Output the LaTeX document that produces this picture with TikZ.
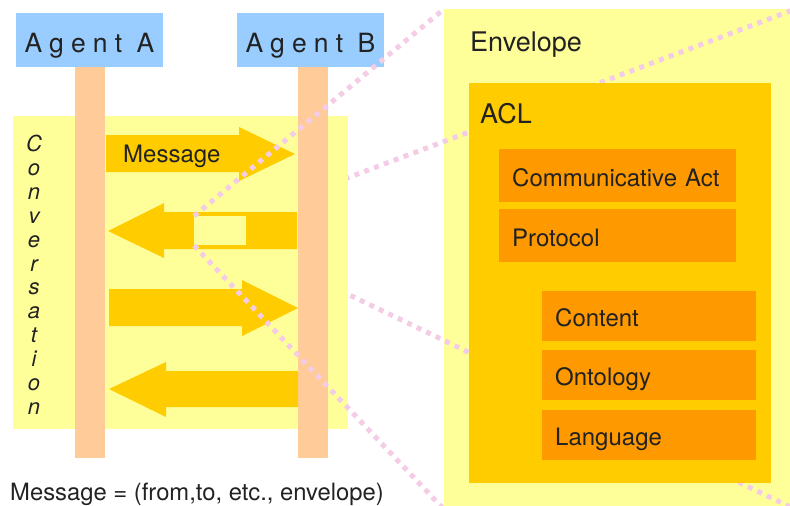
\documentclass[tikz,border=0pt]{standalone}
\usepackage{fontspec}
\setmainfont{TeX Gyre Heros}
\newfontfamily\agentfamily[LetterSpace=27]{TeX Gyre Heros}

\definecolor{paleyellow}{HTML}{FFFF99}
\definecolor{aclgold}{HTML}{FFCC00}
\definecolor{partorange}{HTML}{FF9900}
\definecolor{peach}{HTML}{FFCC99}
\definecolor{skyblue}{HTML}{99CCFF}
\definecolor{zoompink}{HTML}{F4CCE6}
\definecolor{ink}{HTML}{222222}

\newcommand\titlesize{\fontsize{27}{32}\selectfont}
\newcommand\partsize{\fontsize{24}{28}\selectfont}
\newcommand\captionsize{\fontsize{23.8}{28}\selectfont}
\newcommand\convsize{\fontsize{22}{26}\selectfont\itshape}
\newcommand\agentsize{\agentfamily\fontsize{26.5}{31}\selectfont}

\pgfdeclarelayer{back}
\pgfdeclarelayer{behind}
\pgfsetlayers{back,behind,main}

\tikzset{
  agent/.style={fill=skyblue, text=ink, font=\agentsize, minimum width=147pt, minimum height=54pt,
    inner sep=0pt, text height=24.5pt, text depth=0pt},
  lifeline/.style={fill=peach},
  convo/.style={fill=paleyellow},
  msgarrow/.style={fill=aclgold},
  plain/.style={text=ink, font=\partsize, inner sep=0pt, anchor=base west},
  convletter/.style={text=ink, font=\convsize, inner sep=0pt, anchor=base},
  title/.style={text=ink, font=\titlesize, inner sep=0pt, anchor=base west},
  envbox/.style={fill=paleyellow, anchor=north west, inner sep=0pt, minimum width=351pt, minimum height=500pt},
  aclbox/.style={fill=aclgold, anchor=north west, inner sep=0pt, minimum width=302pt, minimum height=400pt},
  part/.style={fill=partorange, text=ink, font=\partsize, anchor=north west, align=left,
    inner xsep=13pt, inner ysep=0pt, text height=21pt, text depth=0pt},
  zoomline/.style={draw=zoompink, line width=5pt, dash pattern=on 5pt off 5.5pt}
}

\begin{document}
\begin{tikzpicture}[x=1pt,y=-1pt]
  \useasboundingbox (0,0) rectangle (790,506);

  % envelope, behind everything
  \begin{pgfonlayer}{back}
    \node[envbox] (envelope) at (444,9) {};
  \end{pgfonlayer}
  \node[title] (envtitle) at (470,51) {Envelope};

  % ACL and its parts
  \node[aclbox] (acl) at (469,83) {};
  \node[title] (acltitle) at (480,123) {ACL};
  \node[part, text width=211pt, minimum height=53pt] (comact) at (499,149) {Communicative Act};
  \node[part, text width=211pt, minimum height=53pt] (protocol) at (499,209) {Protocol};
  \node[part, text width=188pt, minimum height=50pt] (content) at (542,291) {Content};
  \node[part, text width=188pt, minimum height=50pt] (ontology) at (542,350) {Ontology};
  \node[part, text width=188pt, minimum height=50pt] (language) at (542,410) {Language};

  % agents and lifelines
  \node[agent] (agentA) at (89.5,40) {Agent A};
  \node[agent] (agentB) at (310.5,40) {Agent B};
  \fill[convo] (13,116) rectangle (348,429);
  \fill[lifeline] (75,67) rectangle (105,458);
  \fill[lifeline] (298,67) rectangle (328,458);

  \foreach \ch [count=\k from 0] in {C,o,n,v,e,r,s,a,t,i,o,n}
    \node[convletter] (conv\k) at (34,{151.5+23.9*\k}) {\ch};

  % messages
  \fill[msgarrow] (106,135) -- (239,135) -- (239,127) -- (295,154) -- (239,181) -- (239,172) -- (106,172) -- cycle;
  \fill[msgarrow] (297,212) -- (164,212) -- (164,203) -- (108,231) -- (164,258) -- (164,249) -- (297,249) -- cycle;
  \fill[msgarrow] (109,289) -- (242,289) -- (242,280) -- (298,308) -- (242,336) -- (242,326) -- (109,326) -- cycle;
  \fill[msgarrow] (298,371) -- (166,371) -- (166,362) -- (109,389) -- (166,417) -- (166,407) -- (298,407) -- cycle;
  \node[plain] (msglabel) at (123,162) {Message};
  \node[fill=paleyellow, anchor=north west, inner sep=0pt, minimum width=52pt, minimum height=29pt] (msgbox) at (194,216) {};

  \node[plain, font=\captionsize] (caption) at (10,500.5) {Message = (from,to, etc., envelope)};

  % zoom lines
  \begin{pgfonlayer}{behind}
    \draw[zoomline] (msgbox.north east) -- (envelope.north east);
    \draw[zoomline] (msgbox.south east) -- (envelope.south east);
  \end{pgfonlayer}
  \draw[zoomline] (msgbox.north west) -- (envelope.north west);
  \draw[zoomline] (msgbox.south west) -- (envelope.south west);
\end{tikzpicture}
\end{document}
